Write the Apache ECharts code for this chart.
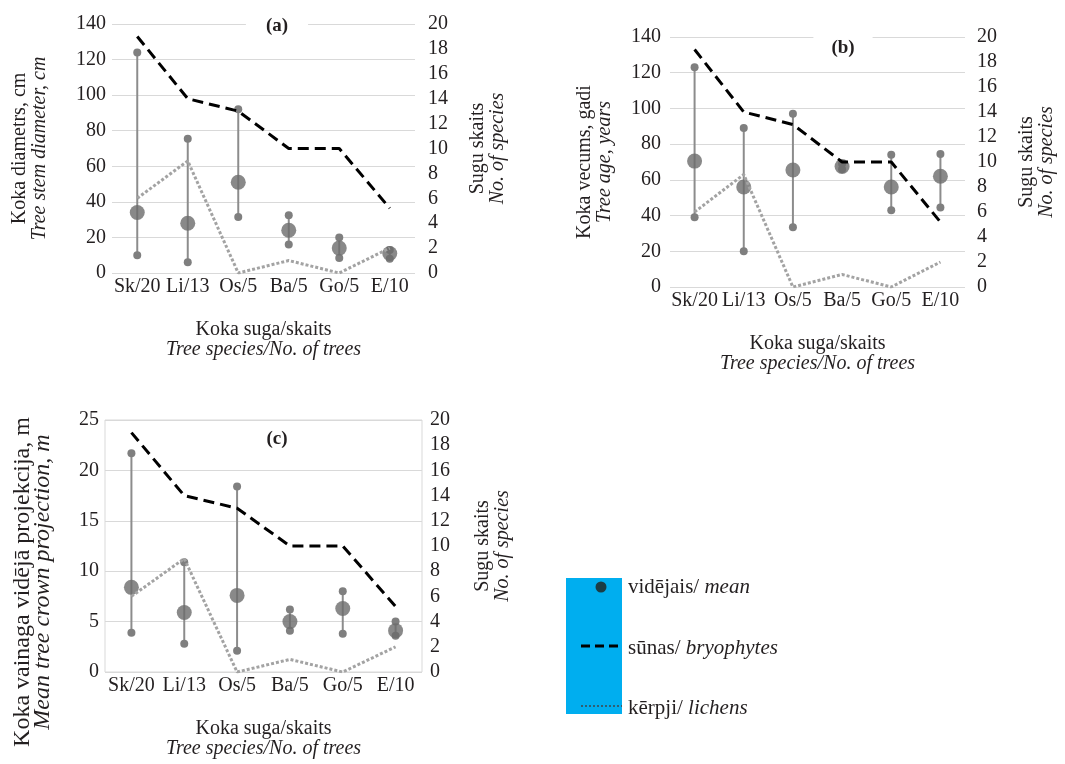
<!DOCTYPE html>
<html>
<head>
<meta charset="utf-8">
<script src="https://cdn.jsdelivr.net/npm/echarts@6/dist/echarts.min.js"></script>
<style>
  html, body { margin: 0; background: #fff; }
  #chart { width: 1065px; height: 764px; }
</style>
</head>
<body>
<div id="chart"></div>
<script>
// categories and species counts (same in every panel)
var categories = ['Sk/20', 'Li/13', 'Os/5', 'Ba/5', 'Go/5', 'E/10'];
var bryophytes = [19, 14, 13, 10, 10, 5.2];
var lichens = [6, 9, 0, 1, 0, 2];

// (a) stem diameter, cm
var diamMean = [34, 28, 51, 24, 14, 11];
var diamMin = [10, 6, 31.5, 16, 8.5, 8];
var diamMax = [124, 75.5, 92, 32.5, 20, 13];

// (b) tree age, years
var ageMean = [70.5, 56, 65.5, 67.5, 56, 62];
var ageMin = [39, 20, 33.5, 66, 43, 44.5];
var ageMax = [123, 89, 97, 69, 74, 74.5];

// (c) crown projection, m
var crownMean = [8.4, 5.9, 7.6, 5.0, 6.3, 4.1];
var crownMin = [3.9, 2.8, 2.1, 4.1, 3.8, 3.6];
var crownMax = [21.7, 10.9, 18.4, 6.2, 8.0, 5.0];

var rightTicks = [0, 20, 2];

var SERIF = 'Liberation Serif';
var INK = '#231f20';

var chart = echarts.init(document.getElementById('chart'));

function whisker(params, api) {
  var x = api.value(0);
  var lo = api.coord([x, api.value(1)]);
  var hi = api.coord([x, api.value(2)]);
  return {
    type: 'group',
    children: [
      { type: 'line', shape: { x1: lo[0], y1: lo[1], x2: hi[0], y2: hi[1] }, style: { stroke: '#8c8c8c', lineWidth: 2 } },
      { type: 'circle', shape: { cx: lo[0], cy: lo[1], r: 4 }, style: { fill: '#7f7f7f' } },
      { type: 'circle', shape: { cx: hi[0], cy: hi[1], r: 4 }, style: { fill: '#7f7f7f' } }
    ]
  };
}

function twoLine(a, b) {
  return '{a|' + a + '}\n{b|' + b + '}';
}

function nameStyleOf(size, lh, pad) {
  return {
    fontFamily: SERIF, fontSize: size, color: INK, lineHeight: lh, padding: pad || 0,
    rich: {
      a: { fontFamily: SERIF, fontSize: size, color: INK, lineHeight: lh },
      b: { fontFamily: SERIF, fontSize: size, color: INK, lineHeight: lh, fontStyle: 'italic' }
    }
  };
}
var nameStyle = nameStyleOf(20, 20);

function xAxis(gi) {
  return {
    type: 'category', gridIndex: gi, data: categories,
    axisLine: { show: false }, axisTick: { show: false },
    axisLabel: { fontFamily: SERIF, fontSize: 20, color: INK, margin: 4, interval: 0 },
    name: twoLine('Koka suga/skaits', 'Tree species/No. of trees'),
    nameLocation: 'middle', nameGap: 47, nameTextStyle: nameStyle
  };
}

function leftAxis(gi, max, step, name, gap, margin, nStyle) {
  return {
    type: 'value', gridIndex: gi, position: 'left', min: 0, max: max, interval: step,
    axisLine: { show: false }, axisTick: { show: false },
    axisLabel: { fontFamily: SERIF, fontSize: 20, color: INK, margin: margin },
    splitLine: { lineStyle: { color: '#d9d9d9', width: 1 } },
    name: name, nameLocation: 'middle', nameRotate: 90, nameGap: gap,
    nameTextStyle: nStyle || nameStyle
  };
}

function rightAxis(gi, gap, margin) {
  return {
    type: 'value', gridIndex: gi, position: 'right',
    min: rightTicks[0], max: rightTicks[1], interval: rightTicks[2],
    axisLine: { show: false }, axisTick: { show: false }, splitLine: { show: false },
    axisLabel: { fontFamily: SERIF, fontSize: 20, color: INK, margin: margin },
    name: twoLine('Sugu skaits', 'No. of species'),
    nameLocation: 'middle', nameRotate: 90, nameGap: gap, nameTextStyle: nameStyle
  };
}

function panelSeries(gi, mean, min, max) {
  var yl = gi * 2, yr = gi * 2 + 1;
  return [
    {
      type: 'custom', xAxisIndex: gi, yAxisIndex: yl, renderItem: whisker,
      encode: { x: 0, y: [1, 2] },
      data: categories.map(function (c, i) { return [i, min[i], max[i]]; }),
      z: 2
    },
    {
      type: 'scatter', xAxisIndex: gi, yAxisIndex: yl, data: mean,
      symbolSize: 15, itemStyle: { color: '#6b6b6b' }, z: 3
    },
    {
      type: 'line', xAxisIndex: gi, yAxisIndex: yr, data: bryophytes,
      showSymbol: false, lineStyle: { color: '#000', width: 3, type: [11, 6] }, z: 4
    },
    {
      type: 'line', xAxisIndex: gi, yAxisIndex: yr, data: lichens,
      showSymbol: false, lineStyle: { color: '#a3a3a3', width: 3, type: [3, 2] }, z: 4
    }
  ];
}

var titleText = { fontFamily: SERIF, fontSize: 19, fontWeight: 'bold', color: INK };
var legendRich = {
  a: { fontFamily: SERIF, fontSize: 21, fill: INK },
  b: { fontFamily: SERIF, fontSize: 21, fontStyle: 'italic', fill: INK }
};

var option = {
  animation: false,
  backgroundColor: '#fff',
  title: [
    { text: '(a)', left: 257, top: 22, textAlign: 'center', textVerticalAlign: 'middle', textStyle: titleText, backgroundColor: '#fff', padding: [4, 20] },
    { text: '(b)', left: 825, top: 40, textAlign: 'center', textVerticalAlign: 'middle', textStyle: titleText, backgroundColor: '#fff', padding: [8, 18] },
    { text: '(c)', left: 277, top: 439, textAlign: 'center', textVerticalAlign: 'middle', textStyle: titleText, padding: 0 }
  ],
  grid: [
    { left: 112, top: 24, width: 303, height: 249 },
    { left: 670, top: 37, width: 295, height: 250 },
    { left: 105, top: 420, width: 317, height: 252, show: true, borderColor: '#d9d9d9', borderWidth: 1 }
  ],
  xAxis: [xAxis(0), xAxis(1), xAxis(2)],
  yAxis: [
    leftAxis(0, 140, 20, twoLine('Koka diametrs, cm', 'Tree stem diameter, cm'), 62, 6),
    rightAxis(0, 53, 13),
    leftAxis(1, 140, 20, twoLine('Koka vecums, gadi', 'Tree age, years'), 55, 9),
    rightAxis(1, 52, 12),
    leftAxis(2, 25, 5, twoLine('Koka vainaga vidējā projekcija, m', 'Mean tree crown projection, m'), 52, 6,
      nameStyleOf(24, 20, [0, 72, 0, 0])),
    rightAxis(2, 51, 8)
  ],
  series: [].concat(
    panelSeries(0, diamMean, diamMin, diamMax),
    panelSeries(1, ageMean, ageMin, ageMax),
    panelSeries(2, crownMean, crownMin, crownMax)
  ),
  graphic: [
    { type: 'rect', shape: { x: 566, y: 578, width: 56, height: 136 }, style: { fill: '#00aeef' } },
    { type: 'circle', shape: { cx: 601, cy: 587, r: 5.5 }, style: { fill: '#1b3d45' } },
    { type: 'line', shape: { x1: 581, y1: 646, x2: 622, y2: 646 }, style: { stroke: '#000', lineWidth: 3, lineDash: [9, 5] } },
    { type: 'line', shape: { x1: 581, y1: 706, x2: 622, y2: 706 }, style: { stroke: '#2f5f73', lineWidth: 2, lineDash: [2, 2] } },
    { type: 'text', left: 628, top: 577, style: { text: '{a|vidējais/ }{b|mean}', rich: legendRich } },
    { type: 'text', left: 628, top: 638, style: { text: '{a|sūnas/ }{b|bryophytes}', rich: legendRich } },
    { type: 'text', left: 628, top: 698, style: { text: '{a|kērpji/ }{b|lichens}', rich: legendRich } }
  ]
};

chart.setOption(option);
</script>
</body>
</html>
